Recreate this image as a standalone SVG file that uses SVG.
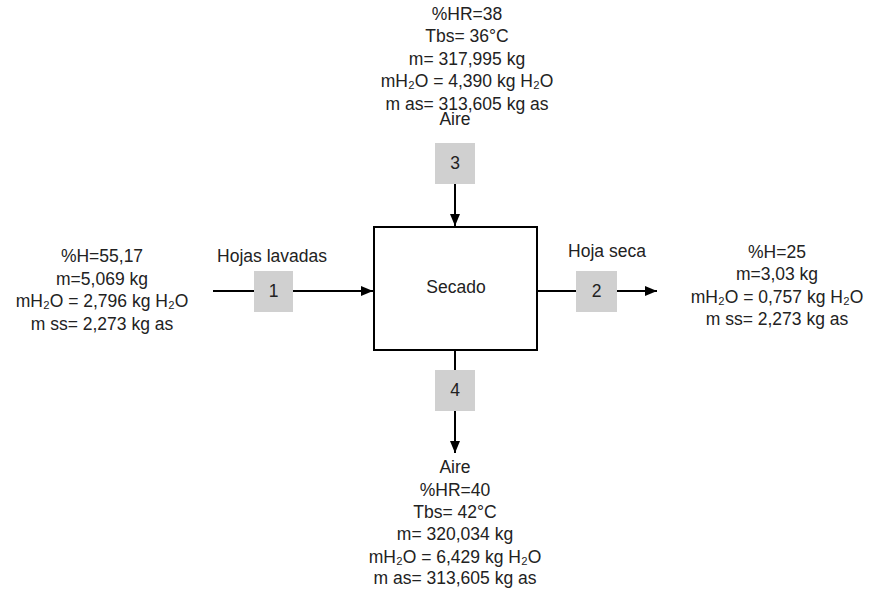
<svg xmlns="http://www.w3.org/2000/svg" width="870" height="590" viewBox="0 0 870 590">
<style>
text{font-family:"Liberation Sans",Arial,sans-serif;font-size:17.5px;fill:#222;text-anchor:middle}
.tag{fill:#d0d0d0;stroke:none}
.ln{stroke:#000;stroke-width:2;fill:none}
</style>
<defs>
<marker id="ah" viewBox="0 0 12 10" refX="12" refY="5" markerWidth="12" markerHeight="10" markerUnits="userSpaceOnUse" orient="auto">
<path d="M0,0 L12,5 L0,10 Z" fill="#000"/>
</marker>
</defs>
<rect width="870" height="590" fill="#fff"/>
<g id="connectors">
<line class="ln" x1="213" y1="291" x2="373" y2="291" marker-end="url(#ah)"/>
<line class="ln" x1="537" y1="291" x2="657" y2="291" marker-end="url(#ah)"/>
<line class="ln" x1="455" y1="183" x2="455" y2="226" marker-end="url(#ah)"/>
<line class="ln" x1="455" y1="350" x2="455" y2="453" marker-end="url(#ah)"/>
</g>
<g id="secado">
<rect x="374" y="227" width="163" height="123" fill="#fff" stroke="#000" stroke-width="2"/>
<text x="456" y="293">Secado</text>
</g>
<g id="s1">
<rect class="tag" x="254" y="271" width="39" height="41"/>
<text x="273.5" y="297">1</text>
</g>
<g id="s2">
<rect class="tag" x="576" y="271" width="41" height="41"/>
<text x="596.5" y="297">2</text>
</g>
<g id="s3">
<rect class="tag" x="435" y="143" width="40" height="41"/>
<text x="455" y="169">3</text>
</g>
<g id="s4">
<rect class="tag" x="435" y="370" width="40" height="41"/>
<text x="455" y="396">4</text>
</g>
<g id="label-hojas-lavadas"><text x="272" y="262">Hojas lavadas</text></g>
<g id="label-hoja-seca"><text x="607" y="257">Hoja seca</text></g>
<g id="info-in">
<text x="102" y="262">%H=55,17</text>
<text x="102" y="285">m=5,069 kg</text>
<text x="102" y="307">mH₂O = 2,796 kg H₂O</text>
<text x="102" y="330">m ss= 2,273 kg as</text>
</g>
<g id="info-out">
<text x="777" y="258">%H=25</text>
<text x="777" y="280">m=3,03 kg</text>
<text x="777" y="303">mH₂O = 0,757 kg H₂O</text>
<text x="777" y="325">m ss= 2,273 kg as</text>
</g>
<g id="info-air-in">
<text x="467" y="20">%HR=38</text>
<text x="467" y="42">Tbs= 36°C</text>
<text x="467" y="65">m= 317,995 kg</text>
<text x="467" y="87">mH₂O = 4,390 kg H₂O</text>
<text x="467" y="110">m as= 313,605 kg as</text>
<text x="455" y="125">Aire</text>
</g>
<g id="info-air-out">
<text x="455" y="473">Aire</text>
<text x="455" y="496">%HR=40</text>
<text x="455" y="518">Tbs= 42°C</text>
<text x="455" y="540">m= 320,034 kg</text>
<text x="455" y="563">mH₂O = 6,429 kg H₂O</text>
<text x="455" y="584">m as= 313,605 kg as</text>
</g>
</svg>
